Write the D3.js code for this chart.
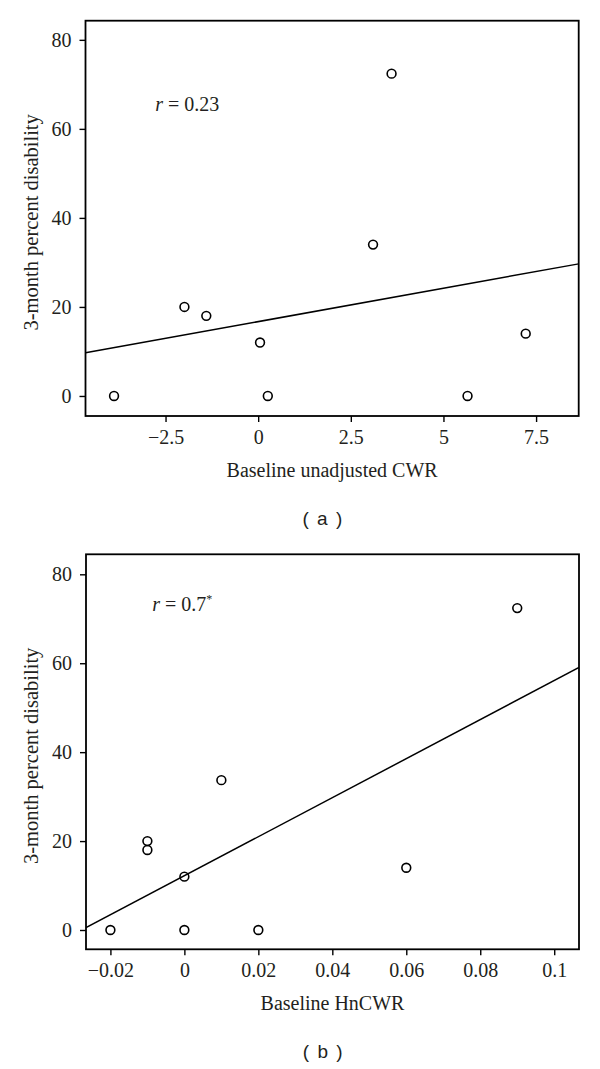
<!DOCTYPE html>
<html>
<head>
<meta charset="utf-8">
<script src="https://cdn.jsdelivr.net/npm/d3@7"></script>
<style>
  body { margin: 0; background: #fff; }
  svg { display: block; }
  .tick-label, .axis-title, .note { font-family: "Liberation Serif", "Times New Roman", serif; fill: #231f20; }
  .panel-label { font-family: "Liberation Sans", Arial, sans-serif; fill: #231f20; }
</style>
</head>
<body>
<div id="chart"></div>
<script>
// Panel (a): baseline unadjusted CWR vs 3-month percent disability
const cwrX = [-3.89, -1.99, -1.40, 0.05, 0.26, 3.10, 3.60, 5.65, 7.22];
const cwrY = [0, 20, 18, 12, 0, 34, 72.4, 0, 14];
const cwrXTicks = [-2.5, 0, 2.5, 5, 7.5];
const cwrFit = [16.7, 1.50]; // intercept, slope

// Panel (b): baseline HnCWR vs 3-month percent disability
const hnX = [-0.02, -0.01, -0.01, 0, 0, 0.01, 0.02, 0.06, 0.09];
const hnY = [0, 20, 18, 12, 0, 33.7, 0, 14, 72.4];
const hnXTicks = [-0.02, 0, 0.02, 0.04, 0.06, 0.08, 0.1];
const hnFit = [12.2, 439]; // intercept, slope

const yTicks = [0, 20, 40, 60, 80];

const width = 600, height = 1069;

const svg = d3.select('#chart').append('svg')
    .attr('width', width)
    .attr('height', height);

const panels = [
    {
        xs: cwrX, ys: cwrY, xTicks: cwrXTicks, fit: cwrFit,
        xDomain: [-4.66, 8.65], yDomain: [-4.5, 84.3],
        left: 85.5, right: 578.7, top: 20.7, bottom: 416,
        xTitle: 'Baseline unadjusted CWR', label: '( a )',
        note: { x: -2.78, y: 64, text: ' = 0.23', star: false }
    },
    {
        xs: hnX, ys: hnY, xTicks: hnXTicks, fit: hnFit,
        xDomain: [-0.0266, 0.1067], yDomain: [-4.34, 84.5],
        left: 86, right: 579, top: 554.3, bottom: 949.3,
        xTitle: 'Baseline HnCWR', label: '( b )',
        note: { x: -0.0087, y: 71.8, text: ' = 0.7', star: true }
    }
];

panels.forEach(p => drawPanel(p));

function drawPanel(p) {
    const x = d3.scaleLinear().domain(p.xDomain).range([p.left, p.right]);
    const y = d3.scaleLinear().domain(p.yDomain).range([p.bottom, p.top]);
    const g = svg.append('g');

    // regression line, clipped to the frame
    const clipId = 'clip' + Math.round(p.top);
    g.append('clipPath').attr('id', clipId)
        .append('rect')
        .attr('x', p.left).attr('y', p.top)
        .attr('width', p.right - p.left).attr('height', p.bottom - p.top);

    const fitLine = d3.line()
        .x(d => x(d))
        .y(d => y(p.fit[0] + p.fit[1] * d));

    g.append('path')
        .attr('clip-path', `url(#${clipId})`)
        .attr('d', fitLine(p.xDomain))
        .attr('fill', 'none')
        .attr('stroke', '#000')
        .attr('stroke-width', 1.5);

    // points
    g.selectAll('.pt')
        .data(d3.range(p.xs.length))
        .enter()
        .append('circle')
        .attr('class', 'pt')
        .attr('cx', i => x(p.xs[i]))
        .attr('cy', i => y(p.ys[i]))
        .attr('r', 4.4)
        .attr('fill', 'none')
        .attr('stroke', '#000')
        .attr('stroke-width', 1.6);

    // frame
    g.append('rect')
        .attr('x', p.left).attr('y', p.top)
        .attr('width', p.right - p.left).attr('height', p.bottom - p.top)
        .attr('fill', 'none')
        .attr('stroke', '#000')
        .attr('stroke-width', 1.8);

    // y axis
    const yAxis = g.append('g')
        .attr('transform', `translate(${p.left},0)`)
        .call(d3.axisLeft(y).tickValues(yTicks).tickSize(6).tickPadding(8).tickFormat(d3.format('')));
    yAxis.select('.domain').remove();
    yAxis.selectAll('line').attr('stroke', '#000').attr('stroke-width', 1.4);
    yAxis.selectAll('text')
        .attr('class', 'tick-label')
        .attr('font-size', 20)
        .attr('dy', '0.33em');

    // x axis
    const xAxis = g.append('g')
        .attr('transform', `translate(0,${p.bottom})`)
        .call(d3.axisBottom(x).tickValues(p.xTicks).tickSize(6).tickPadding(8).tickFormat(d3.format('')));
    xAxis.select('.domain').remove();
    xAxis.selectAll('line').attr('stroke', '#000').attr('stroke-width', 1.4);
    xAxis.selectAll('text')
        .attr('class', 'tick-label')
        .attr('font-size', 20)
        .attr('dy', '0.71em');

    const midX = (p.left + p.right) / 2;
    const midY = (p.top + p.bottom) / 2;

    // axis titles
    g.append('text')
        .attr('class', 'axis-title')
        .attr('x', midX)
        .attr('y', p.bottom + 61)
        .attr('text-anchor', 'middle')
        .attr('font-size', 20)
        .text(p.xTitle);

    g.append('text')
        .attr('class', 'axis-title')
        .attr('transform', `translate(37.5,${midY + 4}) rotate(-90)`)
        .attr('text-anchor', 'middle')
        .attr('font-size', 20.5)
        .text('3-month percent disability');

    // correlation note
    const note = g.append('text')
        .attr('class', 'note')
        .attr('x', x(p.note.x))
        .attr('y', y(p.note.y))
        .attr('font-size', 20);
    note.append('tspan').attr('font-style', 'italic').text('r');
    note.append('tspan').text(p.note.text);
    if (p.note.star) {
        note.append('tspan').attr('font-size', 12).attr('dy', -8).text('*');
    }

    // panel label
    g.append('text')
        .attr('class', 'panel-label')
        .attr('x', midX - 9)
        .attr('y', p.bottom + 109)
        .attr('text-anchor', 'middle')
        .attr('font-size', 19)
        .attr('letter-spacing', 1.5)
        .text(p.label);
}
</script>
</body>
</html>
